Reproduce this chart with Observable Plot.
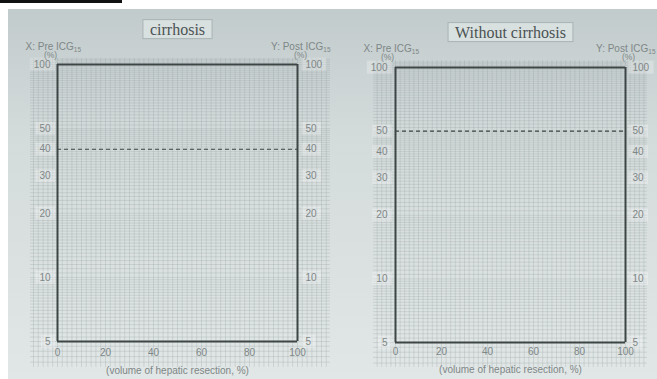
<!DOCTYPE html>
<html><head><meta charset="utf-8">
<script src="https://cdn.jsdelivr.net/npm/d3@7"></script>
<script src="https://cdn.jsdelivr.net/npm/@observablehq/plot@0.6"></script>
<style>
body{margin:0;background:#fff;}
#wrap{position:relative;width:657px;height:379px;overflow:hidden;}
#photo{position:absolute;left:8px;top:9px;width:649px;height:370px;background:linear-gradient(#c2cbcc,#d4dbdb 35%,#e1e6e6);}
#bar{position:absolute;left:0;top:0;width:122px;height:3px;background:#111;}
.panel{position:absolute;top:0;}
</style></head><body>
<div id="wrap"><div id="photo"></div><div id="bar"></div>
<div class="panel" id="p1" style="left:0"></div>
<div class="panel" id="p2" style="left:330px"></div></div>
<script>
// ---- data ----
const xTicks = [0, 20, 40, 60, 80, 100];           // volume of hepatic resection (%)
const yTicks = [5, 10, 20, 30, 40, 50, 100];       // ICG (%) log axis
const panelTitles = ["cirrhosis", "Without cirrhosis"];
const cutoffs = [40, 50];                          // dashed Post ICG line per panel
const xLabel = "(volume of hepatic resection, %)";
const leftHead = "X: Pre ICG";
const rightHead = "Y: Post ICG";
const subText = "15";

// graph-paper grid
const gridXAll = d3.range(-12, 116, 2);
const gridYAll = [...d3.range(3.5, 10, 0.25), ...d3.range(10, 20, 0.5), ...d3.range(20, 50, 1), ...d3.range(50, 112, 2)];

const panels = [
  {el: "#p1", width: 330, mL: 30, mR: 0, mT: 58, mB: 12, xd: [-11.25, 113.75], yd: [3.776, 106.7],
   lDx: -7, rDx: 8, xDy: 11, labDy: 29, hLdx: -32, hRdx: 33, pLdx: -7, pRdx: 3, hDy: -18},
  {el: "#p2", width: 327, mL: 43, mR: 10, mT: 60, mB: 12, xd: [-9.565, 109.565], yd: [3.81, 107.9],
   lDx: -8, rDx: 7, xDy: 9, labDy: 27, hLdx: -32, hRdx: 30, pLdx: -8, pRdx: 3, hDy: -19}
];

const tickFill = "#7e8787";
const dark = "#3d4545";
const ns = "http://www.w3.org/2000/svg";

const boxBehind = (t, px, py, fill, stroke) => {
  const bb = t.getBBox();
  const r = document.createElementNS(ns, "rect");
  r.setAttribute("x", bb.x - px); r.setAttribute("y", bb.y - py);
  r.setAttribute("width", bb.width + 2 * px); r.setAttribute("height", bb.height + 2 * py);
  r.setAttribute("fill", fill);
  if (stroke) { r.setAttribute("stroke", stroke); r.setAttribute("stroke-width", 1); }
  const tr = t.getAttribute("transform"); if (tr) r.setAttribute("transform", tr);
  t.parentNode.insertBefore(r, t);
};

panels.forEach((p, i) => {
  const gx = gridXAll.filter(v => v >= p.xd[0] && v <= p.xd[1]);
  const gy = gridYAll.filter(v => v >= p.yd[0] && v <= p.yd[1]);
  const chart = Plot.plot({
    width: p.width, height: 379,
    marginLeft: p.mL, marginRight: p.mR, marginTop: p.mT, marginBottom: p.mB,
    x: {domain: p.xd, axis: null},
    y: {type: "log", domain: p.yd, axis: null},
    style: {background: "transparent", fontFamily: "'Liberation Sans', Arial, sans-serif", overflow: "visible"},
    marks: [
      Plot.ruleX(gx, {stroke: "#8f9b9c", strokeOpacity: 0.26, strokeWidth: 1}),
      Plot.ruleY(gy, {stroke: "#8f9b9c", strokeOpacity: 0.26, strokeWidth: 1}),
      Plot.ruleY([cutoffs[i]], {x1: 0, x2: 100, stroke: "#3b4343", strokeWidth: 1.2, strokeDasharray: "4,3"}),
      Plot.ruleX([0, 100], {y1: 5, y2: 100, stroke: dark, strokeWidth: 2}),
      Plot.ruleY([5, 100], {x1: 0, x2: 100, stroke: dark, strokeWidth: 2}),
      Plot.text(yTicks, {x: 0, y: d => d, dx: p.lDx, textAnchor: "end", fill: tickFill, fontSize: 10}),
      Plot.text(yTicks, {x: 100, y: d => d, dx: p.rDx, textAnchor: "start", fill: tickFill, fontSize: 10}),
      Plot.text(xTicks, {x: d => d, y: 5, dy: p.xDy, fill: tickFill, fontSize: 10}),
      Plot.text([xLabel], {x: 50, y: 5, dy: p.labDy, fill: tickFill, fontSize: 10}),
      Plot.text([leftHead], {x: 0, y: 100, dx: p.hLdx, dy: p.hDy, textAnchor: "start", fill: tickFill, fontSize: 10}),
      Plot.text(["(%)"], {x: 0, y: 100, dx: p.pLdx, dy: p.hDy + 9, fill: tickFill, fontSize: 8.5}),
      Plot.text([rightHead], {x: 100, y: 100, dx: p.hRdx, dy: p.hDy, textAnchor: "end", fill: tickFill, fontSize: 10}),
      Plot.text(["(%)"], {x: 100, y: 100, dx: p.pRdx, dy: p.hDy + 9, fill: tickFill, fontSize: 8.5}),
      Plot.text([panelTitles[i]], {x: 50, y: 100, dy: -35, fill: "#4a5353", fontSize: 16,
        fontFamily: "'Liberation Serif', 'DejaVu Serif', serif"})
    ]
  });
  document.querySelector(p.el).appendChild(chart);

  const texts = Array.from(chart.querySelectorAll("text"));
  const yStr = yTicks.map(String);
  texts.forEach(t => {
    const c = t.textContent;
    const anchor = t.getAttribute("text-anchor") || t.parentNode.getAttribute("text-anchor");
    if (c === leftHead || c === rightHead) {
      const s = document.createElementNS(ns, "tspan");
      s.setAttribute("font-size", 6.5); s.setAttribute("dy", 2); s.textContent = subText;
      t.appendChild(s);
    } else if (c === panelTitles[i]) {
      boxBehind(t, 7, 1, "#d9e0e0", "#aab3b4");
    } else if (yStr.includes(c) && anchor && anchor !== "middle") {
      boxBehind(t, 4, 1, "rgba(255,255,255,0.28)");
    }
  });
});
</script></body></html>
